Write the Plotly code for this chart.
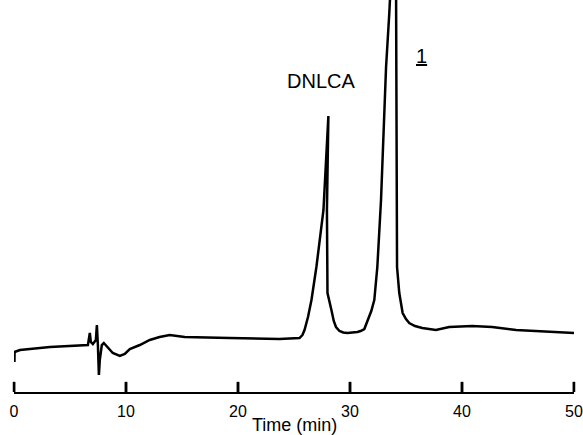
import plotly.graph_objects as go

# Chromatogram trace (time in min, detector signal in arbitrary units)
time_min = [0.04, 0.05, 0.53, 3.21, 6.60, 6.77, 6.86, 7.04, 7.31, 7.40, 7.49, 7.58, 7.66,
            7.84, 8.02, 8.38, 8.82, 9.45, 9.89, 10.34, 11.23, 12.12, 13.00, 13.90, 15.24,
            19.25, 23.71, 25.49, 25.75, 25.94, 26.25, 26.56, 27.00, 27.63, 28.07, 27.94, 27.99,
            28.34, 28.55, 28.75, 29.06, 29.40, 29.77, 30.66, 30.95, 31.28, 31.58, 31.90,
            32.17, 32.44, 32.77, 33.00, 33.22, 33.51, 33.78, 34.09, 34.12, 34.14, 34.20,
            34.40, 34.55, 34.70, 35.00, 35.29, 35.80, 36.45, 37.67, 38.86, 40.91, 42.69,
            44.83, 47.77, 49.82, 50.0]
signal = [29, 39, 41, 44, 46, 58, 49, 47, 51, 66, 46, 16, 31,
          46, 48, 43, 38, 35, 37, 42, 46, 51, 54, 56, 54,
          53, 52, 53, 56, 61, 74, 91, 124, 181, 275, 181, 98,
          81, 70, 64, 60, 58.5, 58, 59, 60, 62, 70, 80,
          91, 124, 191, 258, 324, 378, 441, 511, 378, 191, 124,
          98, 86, 78, 72, 68, 65, 63, 61, 64, 65, 64,
          61, 59, 58, 58]

x_range = [0, 50]
y_range = [-1, 391]
x_ticks = [0, 10, 20, 30, 40, 50]
x_title = "Time (min)"
peak_labels = ["DNLCA", "<u>1</u>"]
peak_label_time = [27.45, 36.36]
peak_label_signal = [310, 335]

fig = go.Figure()
fig.add_trace(go.Scatter(
    x=time_min, y=signal, mode="lines",
    line=dict(color="black", width=2.5),
    hoverinfo="skip", showlegend=False,
))

# upward tick marks drawn through the axes (one short vertical segment per tick value)
tick_x, tick_y = [], []
for t in x_ticks:
    tick_x += [t, t, None]
    tick_y += [y_range[0], y_range[0] + 10, None]
fig.add_trace(go.Scatter(
    x=tick_x, y=tick_y, mode="lines",
    line=dict(color="black", width=2.5),
    hoverinfo="skip", showlegend=False,
))

for txt, tx, sy in zip(peak_labels, peak_label_time, peak_label_signal):
    fig.add_annotation(x=tx, y=sy, text=txt, showarrow=False,
                       font=dict(size=20, color="black", family="Arial, Liberation Sans"))

fig.add_annotation(x=0.5, xref="paper", y=-0.085, yref="paper", yanchor="middle",
                   text=x_title, showarrow=False,
                   font=dict(size=18, color="black", family="Arial, Liberation Sans"))

# ticks again as unclipped shapes so the end ticks keep their full width
for t in x_ticks:
    frac = (t - x_range[0]) / (x_range[1] - x_range[0])
    fig.add_shape(type="line", xref="x domain", yref="y domain",
                  x0=frac, x1=frac, y0=0, y1=0.026,
                  line=dict(color="black", width=2.5), layer="above")

fig.update_layout(
    width=583, height=435,
    margin=dict(l=14, r=9, t=0, b=43),
    paper_bgcolor="white", plot_bgcolor="white",
    font=dict(family="Arial, Liberation Sans", color="black"),
    xaxis=dict(
        range=x_range, tickvals=x_ticks, ticktext=[str(v) for v in x_ticks],
        showline=True, linecolor="black", linewidth=2,
        ticks="", showgrid=False, zeroline=False, automargin=False,
        tickfont=dict(size=16, color="black"), ticklabelstandoff=4,
    ),
    yaxis=dict(range=y_range, visible=False, showgrid=False, zeroline=False,
               automargin=False),
)

fig.write_html("out.html", config={"displayModeBar": False},
               post_script="document.body.style.margin='0px';document.body.style.overflow='hidden';")
